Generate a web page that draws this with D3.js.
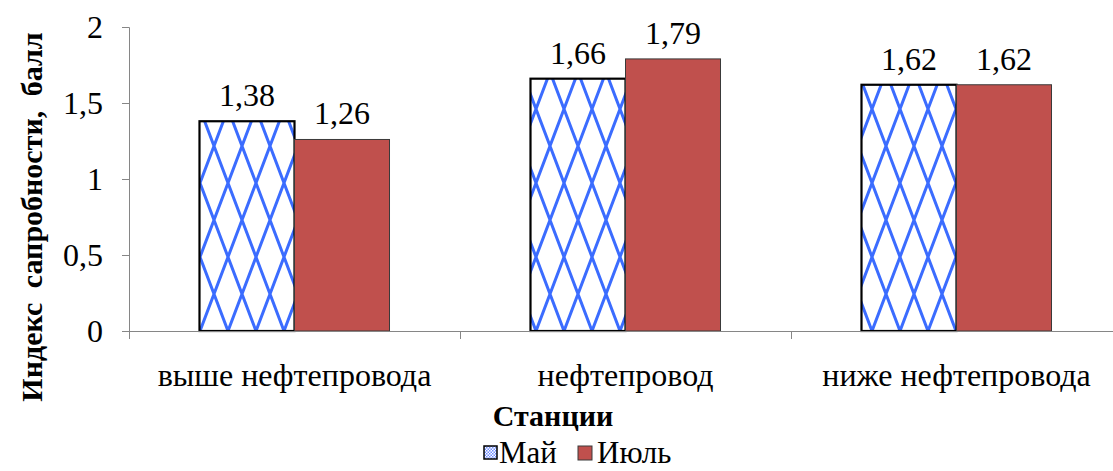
<!DOCTYPE html>
<html><head><meta charset="utf-8">
<script src="https://cdn.jsdelivr.net/npm/d3@7"></script>
<style>body{margin:0;background:#fff}svg{display:block}</style>
</head><body>
<script>
const categories = ["выше нефтепровода", "нефтепровод", "ниже нефтепровода"];
const seriesNames = ["Май", "Июль"];
const may = [1.38, 1.66, 1.62];
const july = [1.26, 1.79, 1.62];
const yTicks = [0, 0.5, 1, 1.5, 2];
const yTitle = "Индекс сапробности, балл";
const xTitle = "Станции";

const FONT = '"Liberation Serif"';
const W = 1113, H = 471;
const svg = d3.select("body").append("svg").attr("width", W).attr("height", H).style("font-family", FONT);
const defs = svg.append("defs");
const pat = defs.append("pattern").attr("id","lattice").attr("patternUnits","userSpaceOnUse")
  .attr("width",28).attr("height",74).attr("x",200).attr("y",331);
pat.append("rect").attr("width",28).attr("height",74).attr("fill","#fff");
pat.append("path").attr("d","M-14,-37L42,111M42,-37L-14,111M14,-37L70,111M14,-37L-42,111M-14,37L14,111M42,37L14,111")
  .attr("stroke","#3b6cff").attr("stroke-width",3).attr("fill","none");
const pat2 = defs.append("pattern").attr("id","check").attr("patternUnits","userSpaceOnUse").attr("width",3).attr("height",3);
pat2.append("rect").attr("width",3).attr("height",3).attr("fill","#fff");
pat2.append("rect").attr("width",1.5).attr("height",1.5).attr("fill","#6f8dff");
pat2.append("rect").attr("x",1.5).attr("y",1.5).attr("width",1.5).attr("height",1.5).attr("fill","#6f8dff");

const x0 = d3.scaleBand().domain(categories).range([129, 1122]);
const x1 = d3.scaleBand().domain(seriesNames).range([0, x0.bandwidth()]).paddingOuter(0.742);
const y = d3.scaleLinear().domain([0, 2]).range([331, 27]);

const yAx = svg.append("g").attr("transform","translate(129,0)")
  .call(d3.axisLeft(y).tickValues(yTicks).tickSize(7).tickFormat(d=>String(d).replace(".",",")));
yAx.attr("font-family", null);
yAx.select(".domain").attr("stroke","#868686").attr("d","M-7,27.5H0.5V331.5");
yAx.selectAll(".tick line").attr("stroke","#868686").attr("x1",-7).attr("x2",0);
yAx.selectAll(".tick text").attr("font-size",32).attr("fill","#000").attr("x",-26).attr("dy","0.34em").style("font-family",FONT);

const data = categories.map((c,i)=>({c, vals:[may[i], july[i]]}));
const g = svg.append("g");
data.forEach(d=>{
  d.vals.forEach((v,j)=>{
    const xx = x0(d.c) + x1(seriesNames[j]);
    g.append("rect").attr("x",xx).attr("y",y(v)).attr("width",x1.bandwidth()).attr("height",y(0)-y(v))
      .attr("fill", j===0 ? "url(#lattice)" : "#c0504d")
      .attr("stroke", j===0 ? "#000" : "#3a3a3a").attr("stroke-width", j===0 ? 2.2 : 1);
    g.append("text").attr("x", xx + x1.bandwidth()/2).attr("y", y(v) - 15)
      .attr("text-anchor","middle").attr("font-size",32).style("font-family",FONT)
      .text(String(v.toFixed(2)).replace(".",","));
  });
});

const xAx = svg.append("g").attr("transform","translate(0,331)")
  .call(d3.axisBottom(x0).tickSize(0).tickPadding(32));
xAx.attr("font-family", null);
xAx.select(".domain").attr("stroke","#868686").attr("d","M129,0.5H1122");
xAx.selectAll(".tick text").attr("font-size",32).attr("fill","#000").style("font-family",FONT);
[0,1,2].forEach(i=>{
  const xv = x0(categories[i]);
  svg.append("line").attr("x1",xv+0.5).attr("x2",xv+0.5).attr("y1",331).attr("y2",339).attr("stroke","#868686");
});

svg.append("text").attr("transform","translate(42,217) rotate(-90)").attr("text-anchor","middle")
  .attr("font-size",30).attr("font-weight","bold").attr("word-spacing",7).style("font-family",FONT).text(yTitle);
svg.append("text").attr("x",553).attr("y",426).attr("text-anchor","middle")
  .attr("font-size",30).attr("font-weight","bold").style("font-family",FONT).text(xTitle);

const lg = svg.append("g");
lg.append("rect").attr("x",484).attr("y",446).attr("width",13).attr("height",13).attr("fill","url(#check)").attr("stroke","#000").attr("stroke-width",1.5);
lg.append("text").attr("x",499).attr("y",463).attr("font-size",31).style("font-family",FONT).text(seriesNames[0]);
lg.append("rect").attr("x",578).attr("y",446).attr("width",14).attr("height",14).attr("fill","#c0504d").attr("stroke","#3a3a3a");
lg.append("text").attr("x",597).attr("y",463).attr("font-size",31).style("font-family",FONT).text(seriesNames[1]);
</script>
</body></html>
